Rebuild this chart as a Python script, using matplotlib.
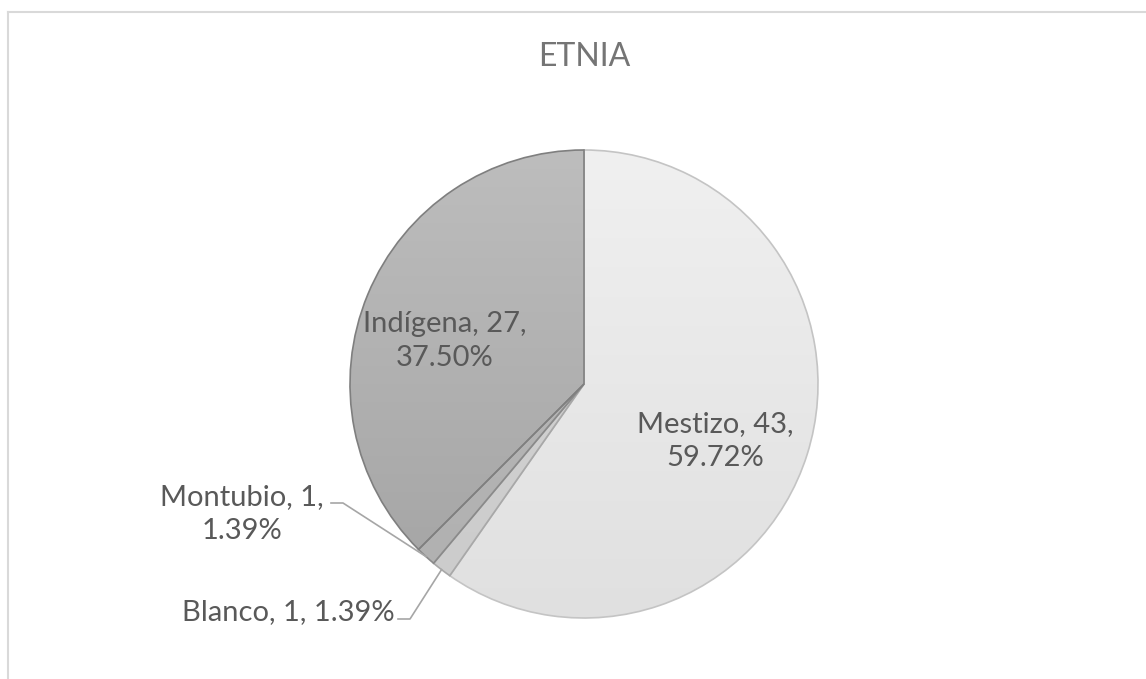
import matplotlib.pyplot as plt
import numpy as np

categorias = ["Mestizo", "Blanco", "Montubio", "Indígena"]
valores = [43, 1, 1, 27]
# colores (arriba, abajo) del degradado de cada porción
colores_sup = ["#f0f0f0", "#d6d6d6", "#bababa", "#bdbdbd"]
colores_inf = ["#e0e0e0", "#cbcbcb", "#b0b0b0", "#a3a3a3"]
bordes = ["#c4c4c4", "#a8a8a8", "#8a8a8a", "#7f7f7f"]

W, H = 1146, 679
fig = plt.figure(figsize=(W / 100, H / 100), dpi=100)
ax = fig.add_axes([0, 0, 1, 1])

cx, cy, r = 584, H - 384, 234
total = sum(valores)
wedges, _ = ax.pie(valores, startangle=90, counterclock=False,
                   center=(cx, cy), radius=r, frame=True,
                   wedgeprops=dict(linewidth=1.2))

def hex2rgb(h):
    return np.array([int(h[i:i + 2], 16) for i in (1, 3, 5)]) / 255.0

for w, c1, c2, eb in zip(wedges, colores_sup, colores_inf, bordes):
    w.set_facecolor("none")
    w.set_edgecolor(eb)
    w.set_zorder(3)
    t = np.linspace(0, 1, 256)[:, None]
    grad = hex2rgb(c1)[None, :] * (1 - t) + hex2rgb(c2)[None, :] * t
    img = ax.imshow(grad[:, None, :], extent=(cx - r, cx + r, cy - r, cy + r),
                    origin="upper", aspect="auto", zorder=2, interpolation="bilinear")
    img.set_clip_path(w)

ax.set_xlim(0, W)
ax.set_ylim(0, H)
ax.set_aspect("equal")
ax.axis("off")

fuente = ["Lato", "DejaVu Sans"]
col_txt = "#595959"
fs = 21
ls = 1.42

def etiqueta(i):
    return f"{categorias[i]}, {valores[i]}, {valores[i] / total * 100:.2f}%"

ax.text(cx, H - 57, "ETNIA", ha="center", va="center", fontsize=23,
        color="#757575", family=fuente)

ax.text(715, H - 441, f"{categorias[0]}, {valores[0]},\n{valores[0] / total * 100:.2f}%",
        ha="center", va="center", fontsize=fs, color=col_txt, family=fuente,
        linespacing=ls, zorder=5)
ax.text(445, H - 341, f"{categorias[3]}, {valores[3]},\n{valores[3] / total * 100:.2f}%",
        ha="center", va="center", fontsize=fs, color=col_txt, family=fuente,
        linespacing=ls, zorder=5)
ax.text(242, H - 514, f"{categorias[2]}, {valores[2]},\n{valores[2] / total * 100:.2f}%",
        ha="center", va="center", fontsize=fs, color=col_txt, family=fuente,
        linespacing=ls, zorder=5)
ax.text(288, H - 612, etiqueta(1), ha="center", va="center", fontsize=fs,
        color=col_txt, family=fuente, zorder=5)

# líneas guía hacia el borde de cada porción pequeña
ang = 90 - 360 * np.cumsum([0] + valores[:-1]) / total - 360 * np.array(valores) / total / 2
for i, (x0, y0) in [(2, (331, H - 503)), (1, (398, H - 619))]:
    a = np.deg2rad(ang[i])
    px, py = cx + r * np.cos(a), cy + r * np.sin(a)
    ax.plot([x0, x0 + 12, px], [y0, y0, py], color="#a6a6a6", lw=1.2, zorder=4)

# marco del gráfico
ax.plot([8, W], [H - 12, H - 12], color="#d9d9d9", lw=1.5, clip_on=False)
ax.plot([8, 8], [H - 12, 0], color="#d9d9d9", lw=1.5, clip_on=False)

fig.savefig("out.png", dpi=100, facecolor="white")
